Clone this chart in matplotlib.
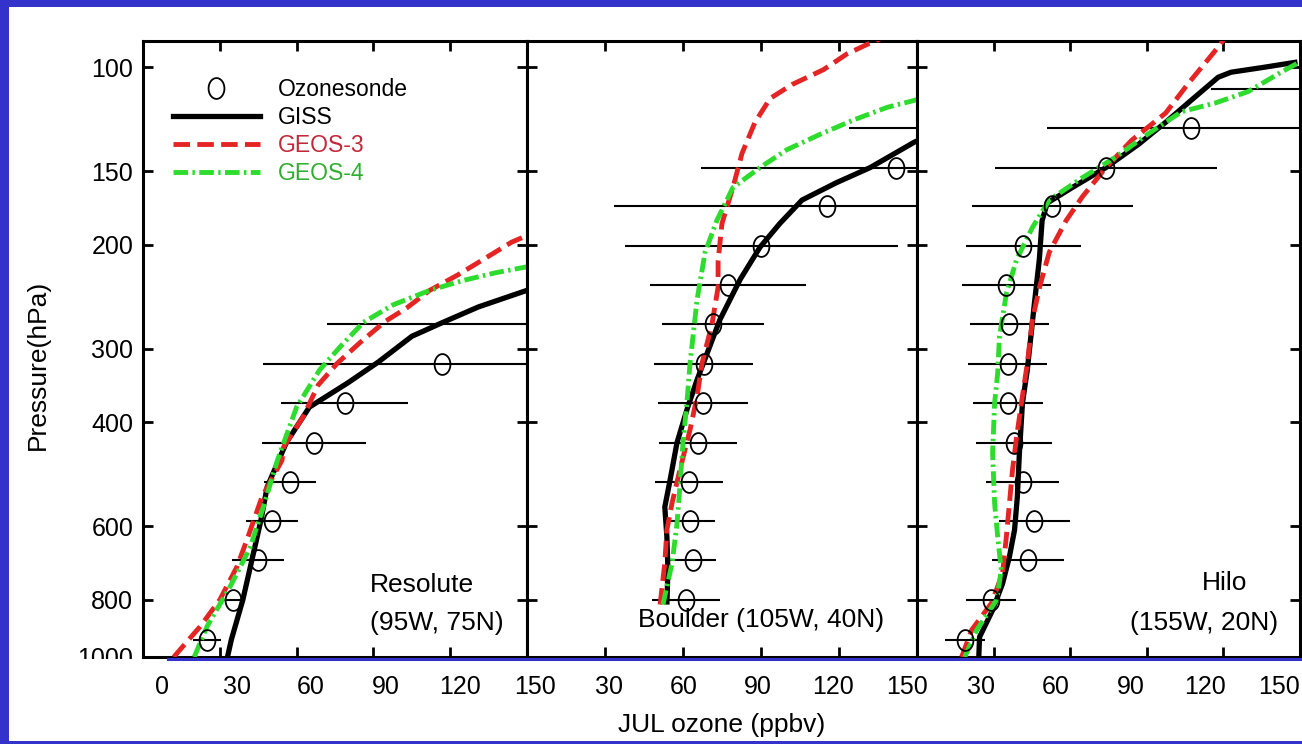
import numpy as np
import matplotlib
matplotlib.use('Agg')
from matplotlib import pyplot as plt
from matplotlib.path import Path
from matplotlib.patches import Rectangle
from matplotlib.lines import Line2D
from matplotlib.ticker import FixedLocator, NullLocator
import matplotlib.transforms as mtransforms

plt.rcParams['font.family'] = ['Liberation Sans', 'DejaVu Sans']

# ---- ozonesonde climatology (JUL), pressure in hPa, ozone in ppbv ----
res_sonde_p = [935, 800, 686, 588, 505, 433, 371, 318, 273]
res_sonde = [25, 35.2, 44.9, 50.4, 57.4, 66.8, 78.8, 116.8, 172]
res_sonde_err = [5.5, 4, 10, 10, 10, 20.3, 24.8, 70, 100]

bou_sonde_p = [800, 686, 588, 505, 433, 371, 318, 273, 234, 201, 172, 148, 127]
bou_sonde = [61.2, 63.8, 62.7, 62.3, 65.8, 67.7, 68, 71.5, 77.3, 90, 115.4, 141.9, 185]
bou_sonde_err = [13, 9, 9.5, 13, 15, 17.4, 19, 19.5, 30, 52.5, 82, 75, 61]

hil_sonde_p = [935, 800, 686, 588, 505, 433, 371, 318, 273, 234, 201, 172, 148, 127, 109]
hil_sonde = [18.7, 29.1, 43.4, 46, 41.4, 38, 35.5, 35.5, 36.2, 35, 41.7, 53, 74, 107.5, 190]
hil_sonde_err = [7.8, 9.8, 14, 14, 14.2, 15, 13.7, 15.5, 15.4, 17.5, 22.6, 31.4, 43.6, 56.5, 75]

# ---- model profiles ----
res_giss_p = [1000, 935, 800, 686, 588, 515, 433, 377, 343, 316, 286, 271, 255, 239, 225]
res_giss = [33, 34.5, 39, 42.5, 46, 48.5, 56, 65, 80, 92, 105, 117, 131, 150, 170]
res_geos3_p = [1000, 888, 800, 703, 633, 535, 464, 440, 392, 346, 318, 293, 270, 256,
               239, 225, 211, 198, 185]
res_geos3 = [12, 22.3, 30, 36.7, 40.6, 46.5, 54.3, 55, 62.5, 68.4, 75.8, 84.8, 94.5, 103,
             112, 123, 133.6, 144, 160]
res_geos4_p = [1000, 888, 760, 653, 557, 464, 377, 326, 298, 271, 253, 239, 230, 223, 218, 210]
res_geos4 = [20, 25, 34, 41.8, 47, 52.5, 60, 69, 77, 86, 97.6, 112, 125, 138, 150, 165]

bou_giss_p = [815, 711, 625, 557, 502, 433, 381, 339, 268, 229, 202, 184, 168, 157, 148, 134, 125]
bou_giss = [53.8, 54.2, 53.8, 53, 55, 57.7, 61.5, 65.4, 74.2, 82, 89.6, 97.3, 105.8, 119,
            132, 149, 165]
bou_geos3_p = [815, 693, 609, 548, 482, 412, 362, 318, 272, 236, 213, 184, 160, 140, 124,
               113, 107, 101, 95, 91, 88]
bou_geos3 = [51.2, 53, 53.8, 55.8, 58.8, 62.7, 65.4, 67.3, 71.2, 73.5, 73.5, 75, 79.2, 82.7,
             87.7, 93.5, 102, 114, 123, 132, 140]
bou_geos4_p = [815, 693, 594, 515, 433, 371, 318, 248, 206, 182, 160, 148, 138, 130, 123,
               117, 114, 110]
bou_geos4 = [52.3, 55.8, 57.7, 58.8, 60, 61.5, 62.7, 65.4, 68.5, 73, 79.2, 89.6, 100, 112.7,
             125.4, 138.5, 148.5, 160]

hil_giss_p = [1000, 925, 833, 751, 676, 609, 535, 451, 371, 326, 251, 212, 182, 170, 160,
              148, 135, 124, 113.7, 104, 102, 100, 98]
hil_giss = [24.2, 24.5, 29.6, 33.5, 36.2, 38.2, 39.3, 40.1, 41.3, 43.2, 46, 47.9, 49, 51,
            60.8, 74, 86.9, 97.4, 107.5, 118, 123, 136.3, 149]
hil_geos3_p = [1000, 900, 810, 721, 625, 549, 482, 424, 371, 318, 268, 236, 206, 182, 166,
               148, 133, 119.6, 106.5, 94.7, 90]
hil_geos3 = [17.5, 21.4, 29.2, 33.5, 35, 36.2, 37.4, 39, 40.9, 43.2, 45.2, 48, 51.8, 58.4,
             64.7, 74, 84.1, 97.4, 106.3, 116, 120]
hil_geos4_p = [1000, 900, 800, 712, 625, 549, 451, 371, 330, 286, 242, 212, 187, 168, 154,
               142, 129.5, 119, 115, 110, 102, 98.5, 95]
hil_geos4 = [18.7, 23.4, 31.2, 33, 31.6, 30.4, 29.6, 30.4, 31.6, 32.3, 35, 39, 45.2, 51.8,
             64.7, 77.9, 90.8, 103.6, 116.9, 129.7, 142.6, 149, 158]

station_names = ['Resolute', 'Boulder (105W, 40N)', 'Hilo']
station_coords = ['(95W, 75N)', '', '(155W, 20N)']

p_ticks = [100, 150, 200, 300, 400, 600, 800, 1000]
x_ticks = [0, 30, 60, 90, 120, 150]
series_names = ['Ozonesonde', 'GISS', 'GEOS-3', 'GEOS-4']

BLUE = '#3333cc'
RED = '#e52424'
GREEN = '#2ddc2d'
W, H = 1302, 744

fig = plt.figure(figsize=(W / 100, H / 100), dpi=100, facecolor=BLUE)
fig.patches.append(Rectangle((9 / W, 3 / H), (W - 9) / W, (H - 10) / H,
                             transform=fig.transFigure, facecolor='white',
                             edgecolor='none', zorder=-10))


def px_axes(left, right, top=41, bottom=657):
    return fig.add_axes([left / W, (H - bottom) / H, (right - left) / W, (bottom - top) / H])


axes = [px_axes(143, 527), px_axes(527, 917), px_axes(917, 1300)]

t = np.linspace(0, 2 * np.pi, 61)
oval = Path(np.column_stack([0.76 * np.cos(t), np.sin(t)]), closed=True)

red_dash = (0, (3.4, 1.5))
green_dashdot = (0, (3.0, 0.9, 0.5, 0.9))

panels = [
    (res_sonde_p, res_sonde, res_sonde_err, res_giss_p, res_giss,
     res_geos3_p, res_geos3, res_geos4_p, res_geos4),
    (bou_sonde_p, bou_sonde, bou_sonde_err, bou_giss_p, bou_giss,
     bou_geos3_p, bou_geos3, bou_geos4_p, bou_geos4),
    (hil_sonde_p, hil_sonde, hil_sonde_err, hil_giss_p, hil_giss,
     hil_geos3_p, hil_geos3, hil_geos4_p, hil_geos4),
]

# x tick labels sit on an evenly spaced row of their own
label_left, label_step = 162, 74.5
tick_left = [143, 527, 917]
tick_step = [384 / 5, 390 / 5, 383 / 5]

for i, (ax, d) in enumerate(zip(axes, panels)):
    sp, sv, se, gp, gv, p3, v3, p4, v4 = d
    ax.errorbar(sv, sp, xerr=se, fmt='none', ecolor='black', elinewidth=1.5,
                capsize=0, zorder=2)
    ax.plot(gv, gp, color='black', lw=3.8, solid_capstyle='butt', zorder=3)
    ax.plot(v3, p3, color=RED, lw=3.5, ls=red_dash, zorder=3)
    ax.plot(v4, p4, color=GREEN, lw=3.5, ls=green_dashdot, zorder=3)
    ax.plot(sv, sp, ls='none', marker=oval, ms=15, mfc='none', mec='black',
            mew=1.3, zorder=5)

    ax.set_yscale('log')
    ax.set_ylim(1000, 90.3)
    ax.set_xlim(0, 150)
    ax.yaxis.set_major_locator(FixedLocator(p_ticks))
    ax.yaxis.set_minor_locator(NullLocator())
    ax.set_yticklabels([str(p) for p in p_ticks])
    ax.set_xticks(x_ticks)
    ax.set_xticklabels([str(x) if (i == 0 or x > 0) else '' for x in x_ticks])
    ax.tick_params(direction='in', length=7, width=2, top=True, right=True,
                   labelsize=18, colors='black')
    ax.tick_params(axis='x', pad=13)
    ax.tick_params(axis='y', pad=7, labelleft=(i == 0))
    for s in ax.spines.values():
        s.set_linewidth(2.2)

    for k, tick in enumerate(ax.xaxis.get_major_ticks()):
        idx = 5 * i + k
        dx = (label_left + label_step * idx) - (tick_left[i] + tick_step[i] * k)
        off = mtransforms.ScaledTranslation(dx / 100, 0, fig.dpi_scale_trans)
        tick.label1.set_transform(tick.label1.get_transform() + off)

axes[0].text(0.591, 0.117, station_names[0], transform=axes[0].transAxes,
             fontsize=19, va='center', ha='left')
axes[0].text(0.591, 0.055, station_coords[0], transform=axes[0].transAxes,
             fontsize=19, va='center', ha='left')
axes[1].text(0.285, 0.060, station_names[1], transform=axes[1].transAxes,
             fontsize=19, va='center', ha='left')
axes[2].text(0.744, 0.120, station_names[2], transform=axes[2].transAxes,
             fontsize=19, va='center', ha='left')
axes[2].text(0.556, 0.055, station_coords[2], transform=axes[2].transAxes,
             fontsize=19, va='center', ha='left')

axes[0].set_ylabel('Pressure(hPa)', fontsize=19, va='center')
axes[0].yaxis.set_label_coords(-0.273, 0.474)
axes[1].set_xlabel('JUL ozone (ppbv)', fontsize=19, labelpad=10)

# the bottom of the lowest pressure label is cut by the lower strip
clip = mtransforms.TransformedBbox(mtransforms.Bbox([[0, (H - 659) / H], [1, 1]]),
                                   fig.transFigure)
for tick in axes[0].yaxis.get_major_ticks():
    tick.label1.set_clip_box(clip)
    tick.label1.set_clip_on(True)

handles = [
    Line2D([], [], ls='none', marker=oval, ms=15, mfc='none', mec='black', mew=1.3),
    Line2D([], [], color='black', lw=3.8),
    Line2D([], [], color=RED, lw=3.5, ls=red_dash),
    Line2D([], [], color=GREEN, lw=3.5, ls=green_dashdot),
]
axes[0].legend(handles, series_names, loc='upper left', bbox_to_anchor=(0.078, 0.94),
               frameon=False, fontsize=16.5, handlelength=3.8, handletextpad=0.8,
               labelspacing=0.22, borderpad=0, borderaxespad=0,
               labelcolor=['black', 'black', '#c4283a', '#2fae2f'])

fig.add_artist(Line2D([168 / W, 1], [(H - 659) / H] * 2, transform=fig.transFigure,
                      color=BLUE, lw=2.2, zorder=10))

fig.savefig('out.png', dpi=100, facecolor=fig.get_facecolor())
